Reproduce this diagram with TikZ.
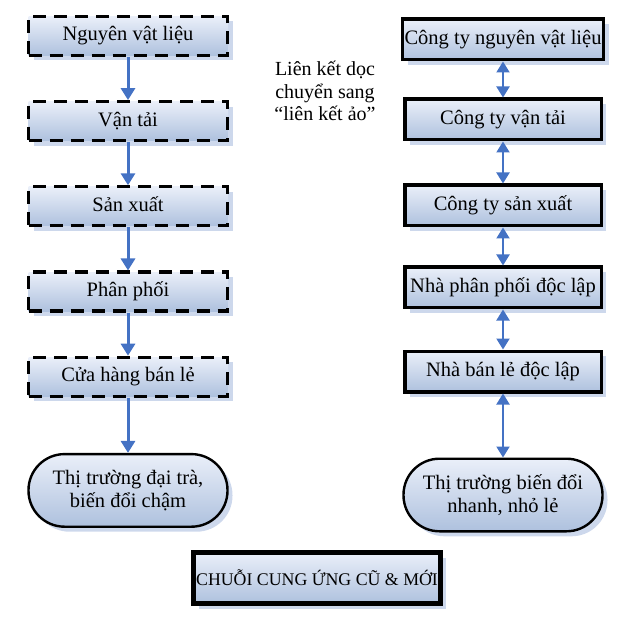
\documentclass[tikz,border=0pt]{standalone}
\usepackage{fontspec}
\setmainfont{Liberation Serif}
\usetikzlibrary{arrows.meta,positioning,shadows}
\definecolor{chainblue}{RGB}{68,114,196}
\definecolor{boxtop}{RGB}{234,239,249}
\definecolor{boxbottom}{RGB}{174,193,222}
\definecolor{shadowblue}{RGB}{200,212,234}
\tikzset{
    stagebox/.style={draw, top color=boxtop, bottom color=boxbottom,
        inner sep=2pt, font=\fontsize{20.5}{23}\selectfont,
        drop shadow={shadow xshift=5pt, shadow yshift=-5pt, fill=shadowblue, opacity=0.9}},
    oldbox/.style={stagebox, line width=3.2pt, dash pattern=on 13pt off 8pt,
        minimum width=199pt, minimum height=39pt, text height=15pt, text depth=5pt},
    newbox/.style={stagebox, line width=3.5pt,
        minimum width=196.5pt, minimum height=40.5pt, text height=15pt, text depth=5pt},
    market/.style={stagebox, line width=2.4pt, minimum width=199pt, minimum height=72.6pt,
        rounded corners=36pt, align=center},
    oldflow/.style={-{Triangle[length=12pt, width=14pt]}, line width=3pt, chainblue},
    newflow/.style={{Triangle[length=11pt, width=13pt]}-{Triangle[length=11pt, width=13pt]}, line width=2pt, chainblue}
}

\begin{document}
\begin{tikzpicture}[node distance=43pt]
    \useasboundingbox (0,0) rectangle (617pt,616pt);

    % chuoi cu
    \node[oldbox] (nvl) at (128pt,580pt) {Nguyên vật liệu};
    \node[oldbox, below=of nvl] (vantai) {Vận tải};
    \node[oldbox, below=of vantai] (sanxuat) {Sản xuất};
    \node[oldbox, below=of sanxuat] (phanphoi) {Phân phối};
    \node[oldbox, below=of phanphoi] (cuahang) {Cửa hàng bán lẻ};
    \node[market, below=55pt of cuahang] (chocu) {Thị trường đại trà,\\biến đổi chậm};

    \draw[oldflow] (nvl) -- (vantai);
    \draw[oldflow] (vantai) -- (sanxuat);
    \draw[oldflow] (sanxuat) -- (phanphoi);
    \draw[oldflow] (phanphoi) -- (cuahang);
    \draw[oldflow] (cuahang) -- (chocu);

    % chuoi moi
    \node[newbox] (ctnvl) at (503pt,576.5pt) {Công ty nguyên vật liệu};
    \node[newbox, below=36pt of ctnvl] (ctvantai) {Công ty vận tải};
    \node[newbox, below=42pt of ctvantai] (ctsanxuat) {Công ty sản xuất};
    \node[newbox, below=38pt of ctsanxuat] (nhapp) {Nhà phân phối độc lập};
    \node[newbox, below=40pt of nhapp] (nhabanle) {Nhà bán lẻ độc lập};
    \node[market, below=64pt of nhabanle] (chomoi) {Thị trường biến đổi\\nhanh, nhỏ lẻ};

    \draw[newflow] (ctnvl) -- (ctvantai);
    \draw[newflow] (ctvantai) -- (ctsanxuat);
    \draw[newflow] (ctsanxuat) -- (nhapp);
    \draw[newflow] (nhapp) -- (nhabanle);
    \draw[newflow] (nhabanle) -- (chomoi);

    \node[align=center, font=\fontsize{20}{22.5}\selectfont] (lienket) at (325pt,525pt) {Liên kết dọc\\chuyển sang\\“liên kết ảo”};

    \node[stagebox, line width=4.4pt, minimum width=247pt, minimum height=51pt,
          font=\fontsize{17.8}{20}\selectfont] (tieude) at (317pt,38pt) {CHUỖI CUNG ỨNG CŨ \& MỚI};
\end{tikzpicture}
\end{document}
